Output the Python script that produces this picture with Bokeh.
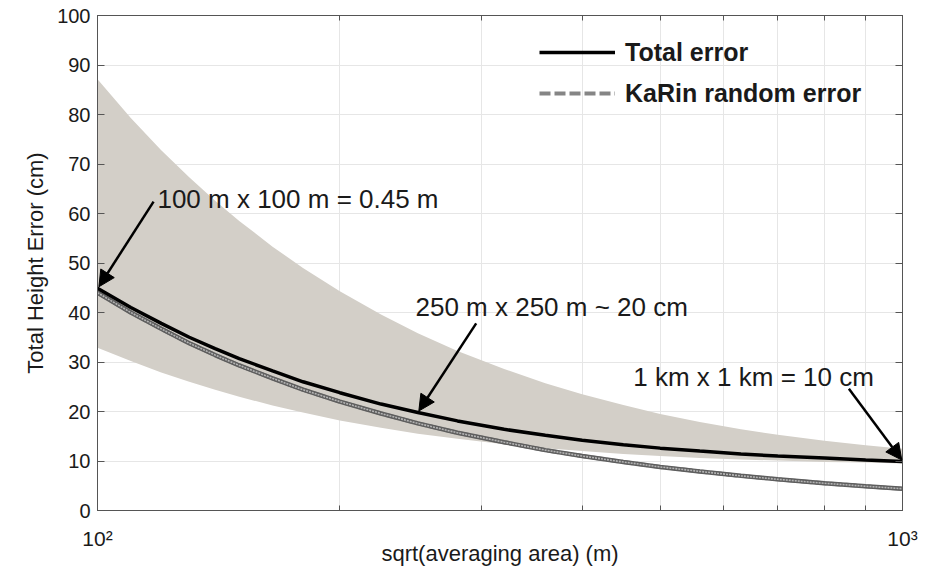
from bokeh.plotting import figure
from bokeh.models import (Range1d, LinearAxis, LogAxis, FixedTicker, Arrow, NormalHead,
                          Label, Legend, LegendItem, CustomJSTickFormatter)
from bokeh.embed import file_html
from bokeh.resources import INLINE

# ---- data ----
sqrt_area_m = [100, 110, 120, 130, 140, 150, 165, 180, 200, 225, 250, 280, 320, 360,
               400, 450, 500, 560, 630, 700, 800, 900, 1000]
total_error_cm = [44.9, 41.0, 37.8, 35.0, 32.7, 30.7, 28.2, 26.0, 23.8, 21.5, 19.8, 18.1,
                  16.4, 15.2, 14.2, 13.3, 12.6, 12.0, 11.4, 11.0, 10.6, 10.2, 9.9]
karin_error_cm = [44.0, 40.0, 36.7, 33.8, 31.4, 29.3, 26.7, 24.4, 22.0, 19.6, 17.6, 15.7,
                  13.8, 12.2, 11.0, 9.8, 8.8, 7.9, 7.0, 6.3, 5.5, 4.9, 4.4]
band_upper_cm = [87.1, 79.3, 72.8, 67.3, 62.6, 58.5, 53.3, 49.0, 44.3, 39.6, 35.8, 32.2,
                 28.6, 25.7, 23.5, 21.3, 19.5, 17.9, 16.4, 15.3, 14.1, 13.2, 12.5]
band_lower_cm = [32.9, 30.2, 27.9, 26.0, 24.4, 23.0, 21.2, 19.8, 18.2, 16.7, 15.5, 14.5,
                 13.4, 12.6, 12.0, 11.4, 11.0, 10.6, 10.3, 10.1, 9.8, 9.7, 9.5]

y_ticks = [0, 10, 20, 30, 40, 50, 60, 70, 80, 90, 100]
x_major_ticks = [100, 1000]
x_minor_ticks = [200, 300, 400, 500, 600, 700, 800, 900]
x_tick_labels = {100: "10²", 1000: "10³"}

series_labels = ["Total error", "KaRin random error"]

FONT = "Liberation Sans"
AX = "#555555"
TXT = "#1a1a1a"

p = figure(width=931, height=568, x_axis_type="log",
           x_range=Range1d(100, 1000), y_range=Range1d(0, 100),
           output_backend="svg", toolbar_location=None,
           min_border_left=97, min_border_right=29, min_border_top=15, min_border_bottom=58,
           background_fill_color="white", border_fill_color="white")

p.outline_line_color = AX
p.outline_line_width = 1

# band
p.varea(x=sqrt_area_m, y1=band_lower_cm, y2=band_upper_cm, fill_color="#d3cfc8", fill_alpha=1.0)

# KaRin random error: dashed gray line (its look is used by the legend),
# covered by the striped rendering seen in the plot
r_karin_legend = p.line(sqrt_area_m, karin_error_cm, line_color="#858585", line_width=4,
                        line_dash="11 4")
p.line(sqrt_area_m, karin_error_cm, line_color="#5e5e5e", line_width=4.5)
p.line(sqrt_area_m, karin_error_cm, line_color="#b4b4b4", line_width=1.6, line_dash="2 1")

# total error
r_total = p.line(sqrt_area_m, total_error_cm, line_color="black", line_width=3.5)

# ---- axes ----
p.xaxis.ticker = FixedTicker(ticks=x_major_ticks, minor_ticks=x_minor_ticks)
p.xaxis.major_label_overrides = x_tick_labels
p.yaxis.ticker = FixedTicker(ticks=y_ticks)

def style_axis(ax):
    ax.axis_line_color = AX
    ax.axis_line_width = 1
    ax.major_tick_line_color = AX
    ax.minor_tick_line_color = AX
    ax.major_tick_in = 7
    ax.major_tick_out = 0
    ax.minor_tick_in = 5
    ax.minor_tick_out = 0
    ax.major_label_text_font = FONT
    ax.major_label_text_color = TXT
    ax.major_label_text_font_size = "20px"
    ax.axis_label_text_font = FONT
    ax.axis_label_text_font_style = "normal"
    ax.axis_label_text_color = TXT
    ax.axis_label_text_font_size = "22px"

for ax in p.xaxis:
    style_axis(ax)
    ax.major_label_text_font_size = "21px"
    ax.major_label_standoff = 16
    ax.axis_label = "sqrt(averaging area) (m)"
    ax.axis_label_standoff = -12

for ax in p.yaxis:
    style_axis(ax)
    ax.minor_tick_line_color = None
    ax.major_label_standoff = 7
    ax.axis_label = "Total Height Error (cm)"
    ax.axis_label_standoff = 6

blank = CustomJSTickFormatter(code="return ''")

right_axis = LinearAxis(ticker=FixedTicker(ticks=y_ticks), formatter=blank)
style_axis(right_axis)
right_axis.major_label_text_font_size = "1px"
right_axis.minor_tick_line_color = None
right_axis.major_label_standoff = 0
p.add_layout(right_axis, "right")

top_axis = LogAxis(ticker=FixedTicker(ticks=x_major_ticks, minor_ticks=x_minor_ticks),
                   formatter=blank)
style_axis(top_axis)
top_axis.major_label_text_font_size = "1px"
top_axis.major_label_standoff = 0
p.add_layout(top_axis, "above")

# grids
p.ygrid.grid_line_color = "#e6e6e6"
p.xgrid.grid_line_color = "#e6e6e6"
p.xgrid.minor_grid_line_color = "#e6e6e6"

# ---- annotations ----
def arrow(xs, ys, xe, ye):
    p.add_layout(Arrow(end=NormalHead(size=16, fill_color="black", line_color="black", line_width=1),
                       x_start=xs, y_start=ys, x_end=xe, y_end=ye,
                       line_color="black", line_width=2.5))

arrow(117.4, 62.4, 100.4, 45.2)
arrow(295.4, 37.8, 250.7, 20.1)
arrow(857.8, 24.6, 998.0, 10.2)

def label(x, y, text):
    p.add_layout(Label(x=x, y=y, text=text, text_font=FONT, text_font_size="26px",
                       text_color=TXT, text_baseline="alphabetic", text_align="left"))

label(118.7, 63.0, "100 m x 100 m = 0.45 m")
label(248.3, 41.1, "250 m x 250 m ~ 20 cm")
label(463.0, 26.9, "1 km x 1 km = 10 cm")

# ---- legend ----
legend = Legend(items=[LegendItem(label=series_labels[0], renderers=[r_total]),
                       LegendItem(label=series_labels[1], renderers=[r_karin_legend])],
                location=(442, 402), orientation="vertical",
                background_fill_alpha=0, border_line_alpha=0,
                padding=0, margin=0, spacing=11,
                glyph_width=76, glyph_height=30, label_height=30,
                label_standoff=10, label_text_font=FONT, label_text_font_style="bold",
                label_text_font_size="25px", label_text_color=TXT,
                label_text_baseline="middle")
p.add_layout(legend)

open("out.html", "w").write(file_html(p, INLINE))
